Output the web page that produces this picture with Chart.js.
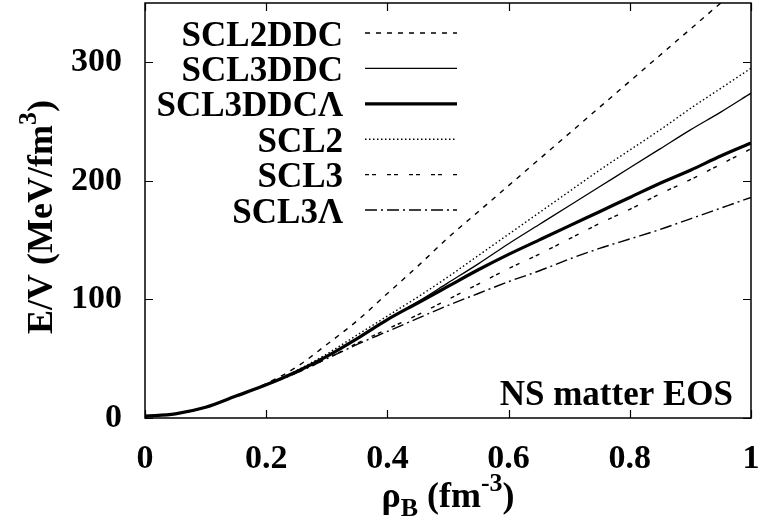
<!DOCTYPE html>
<html><head><meta charset="utf-8">
<script src="https://cdn.jsdelivr.net/npm/chart.js@4/dist/chart.umd.min.js"></script>
<style>html,body{margin:0;padding:0;background:#fff;}#wrap{width:763px;height:524px;position:relative;}</style>
</head><body><div id="wrap"><canvas id="c" width="763" height="524"></canvas></div>
<script>
// ---- data ----
const rho      = [0, 0.05, 0.1, 0.15, 0.2, 0.25, 0.3, 0.35, 0.4, 0.45, 0.5, 0.55, 0.6, 0.65, 0.7, 0.75, 0.8, 0.85, 0.9, 0.95, 1.0];
const scl2ddc  = [1.5, 3.5, 9, 18.5, 29, 43, 62, 82, 105, 128, 152, 174, 196, 218, 240, 262, 284, 306, 328, 350, 372];
const scl3ddc  = [1.5, 3.5, 9, 18.5, 28, 39, 52, 67, 83, 98, 114, 130, 147, 163, 179, 195, 211, 227, 243, 258, 274];
const scl3ddcL = [1.5, 3.5, 9, 18.5, 28, 39, 52, 67, 83, 97, 111, 125, 138, 150, 162, 174, 186, 198, 209, 221, 232];
const scl2     = [1.5, 3.5, 9, 18.5, 28, 40, 54, 70, 86, 102, 119, 137, 155, 173, 191, 209, 226, 243, 261, 278, 295];
const scl3     = [1.5, 3.5, 9, 18.5, 28, 38, 50, 63, 75, 87, 100, 113, 126, 138, 151, 164, 176, 189, 201, 214, 227];
const scl3L    = [1.5, 3.5, 9, 18.5, 28, 38, 50, 62, 73, 84, 95, 105, 115, 124, 134, 143, 151, 159, 168, 177, 186];
const seriesNames = ['SCL2DDC', 'SCL3DDC', 'SCL3DDC\u039B', 'SCL2', 'SCL3', 'SCL3\u039B'];
const xTicks = [0, 0.2, 0.4, 0.6, 0.8, 1];
const xTickLabels = ['0', '0.2', '0.4', '0.6', '0.8', '1'];
const yTicks = [0, 100, 200, 300];
const yTickLabels = ['0', '100', '200', '300'];
const annotationText = 'NS matter EOS';

const FONT = '"Liberation Serif", "Times New Roman", Times, serif';
const toPts = arr => arr.map((v, i) => ({x: rho[i], y: v}));
const styles = [
  {w: 1.4, dash: [5, 6]},
  {w: 1.3, dash: []},
  {w: 3.2, dash: []},
  {w: 1.4, dash: [1.5, 2.5]},
  {w: 1.4, dash: [4, 3, 4, 11]},
  {w: 1.4, dash: [12, 4, 2, 4]}
];
const seriesData = [scl2ddc, scl3ddc, scl3ddcL, scl2, scl3, scl3L];
const datasets = seriesData.map((d, i) => ({
  label: seriesNames[i],
  data: toPts(d),
  borderColor: '#000',
  backgroundColor: '#000',
  borderWidth: styles[i].w,
  borderDash: styles[i].dash,
  pointRadius: 0,
  fill: false
}));

const decoPlugin = {
  id: 'deco',
  afterDatasetsDraw(chart) {
    const ctx = chart.ctx, a = chart.chartArea;
    const xs = chart.scales.x, ys = chart.scales.y;
    ctx.save();
    ctx.strokeStyle = '#000';
    ctx.lineWidth = 1.5;
    ctx.setLineDash([]);
    ctx.strokeRect(a.left, a.top, a.right - a.left, a.bottom - a.top);
    const tl = 8;
    ctx.lineWidth = 1.2;
    ctx.beginPath();
    xTicks.forEach(v => {
      const px = Math.round(xs.getPixelForValue(v)) + 0.5;
      ctx.moveTo(px, a.bottom); ctx.lineTo(px, a.bottom - tl);
      ctx.moveTo(px, a.top); ctx.lineTo(px, a.top + tl);
    });
    yTicks.forEach(v => {
      const py = Math.round(ys.getPixelForValue(v)) + 0.5;
      ctx.moveTo(a.left, py); ctx.lineTo(a.left + tl, py);
      ctx.moveTo(a.right, py); ctx.lineTo(a.right - tl, py);
    });
    ctx.stroke();

    // legend
    ctx.fillStyle = '#000';
    ctx.font = 'bold 35px ' + FONT;
    ctx.textAlign = 'right';
    ctx.textBaseline = 'alphabetic';
    chart.data.datasets.forEach((ds, i) => {
      const yc = 33 + i * 35.4;
      ctx.fillText(ds.label, 343, yc + 12.5);
      ctx.lineWidth = ds.borderWidth;
      ctx.setLineDash(ds.borderDash);
      ctx.beginPath();
      ctx.moveTo(365, yc); ctx.lineTo(457, yc);
      ctx.stroke();
    });
    ctx.setLineDash([]);

    // annotation
    ctx.font = 'bold 35px ' + FONT;
    ctx.textAlign = 'right';
    ctx.fillText(annotationText, 733, 405);

    // y axis title (rotated) E/V (MeV/fm^3)
    const big = 'bold 36px ' + FONT, small = 'bold 26px ' + FONT;
    ctx.save();
    ctx.translate(52, 217);
    ctx.rotate(-Math.PI / 2);
    ctx.textAlign = 'left';
    const parts = [['E/V (MeV/fm', big, 0], ['3', small, -16], [')', big, 0]];
    let tot = 0;
    parts.forEach(p => { ctx.font = p[1]; tot += ctx.measureText(p[0]).width; });
    let u = -tot / 2;
    parts.forEach(p => { ctx.font = p[1]; ctx.fillText(p[0], u, p[2]); u += ctx.measureText(p[0]).width; });
    ctx.restore();

    // x axis title rho_B (fm^-3)
    const xparts = [['\u03C1', big, 0], ['B', small, 9], [' (fm', big, 0], ['-3', small, -16], [')', big, 0]];
    ctx.textAlign = 'left';
    let tw = 0;
    xparts.forEach(p => { ctx.font = p[1]; tw += ctx.measureText(p[0]).width; });
    let x0 = (a.left + a.right) / 2 - tw / 2;
    xparts.forEach(p => { ctx.font = p[1]; ctx.fillText(p[0], x0, 507 + p[2]); x0 += ctx.measureText(p[0]).width; });
    ctx.restore();
  }
};

new Chart(document.getElementById('c'), {
  type: 'line',
  data: {datasets},
  options: {
    responsive: false,
    animation: false,
    devicePixelRatio: 1,
    layout: {padding: {top: 3, right: 12, left: 0, bottom: 0}},
    plugins: {legend: {display: false}, tooltip: {enabled: false}},
    elements: {line: {tension: 0.4, cubicInterpolationMode: 'monotone'}, point: {radius: 0}},
    scales: {
      x: {
        type: 'linear', min: 0, max: 1,
        grid: {display: false, drawTicks: false},
        border: {display: false},
        afterBuildTicks: s => { s.ticks = xTicks.map(v => ({value: v})); },
        ticks: {
          callback: v => xTickLabels[xTicks.indexOf(v)],
          font: {family: FONT, size: 34, weight: 'bold'}, color: '#000',
          padding: 21, maxRotation: 0, autoSkip: false
        },
        afterFit: s => { s.height = 106; s.paddingLeft = 0; s.paddingRight = 0; }
      },
      y: {
        type: 'linear', min: 0, max: 350,
        grid: {display: false, drawTicks: false},
        border: {display: false},
        afterBuildTicks: s => { s.ticks = yTicks.map(v => ({value: v})); },
        ticks: {
          callback: v => yTickLabels[yTicks.indexOf(v)],
          font: {family: FONT, size: 34, weight: 'bold'}, color: '#000',
          padding: 23, autoSkip: false
        },
        afterFit: s => { s.width = 145; s.paddingTop = 0; s.paddingBottom = 0; }
      }
    }
  },
  plugins: [decoPlugin]
});
</script></body></html>
